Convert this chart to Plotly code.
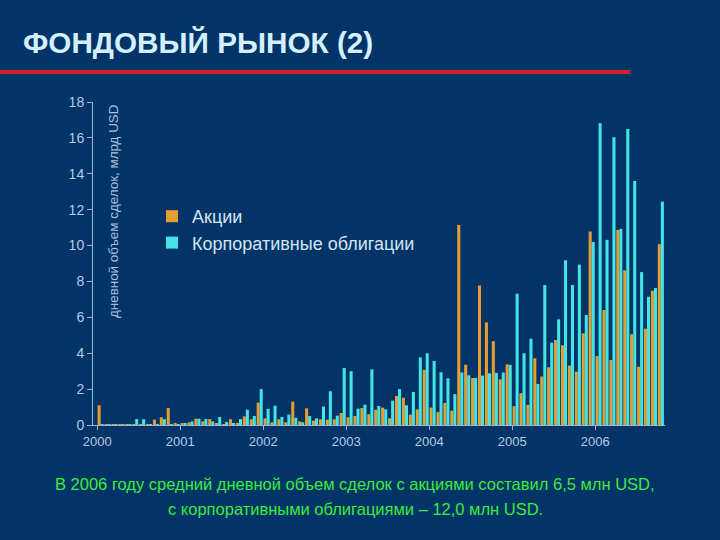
import plotly.graph_objects as go

# Monthly data, Jan 2000 .. Oct 2006 (82 months)
years = ["2000", "2001", "2002", "2003", "2004", "2005", "2006"]

stocks = [
    1.10, 0.03, 0.03, 0.03, 0.03, 0.03, 0.03, 0.03, 0.30, 0.43, 0.95, 0.08,   # 2000
    0.10, 0.15, 0.35, 0.20, 0.33, 0.10, 0.05, 0.32, 0.10, 0.48, 0.32, 1.25,   # 2001
    0.37, 0.15, 0.32, 0.15, 1.30, 0.20, 0.93, 0.24, 0.32, 0.30, 0.32, 0.67,   # 2002
    0.43, 0.50, 0.95, 0.60, 0.85, 0.97, 0.37, 1.62, 1.52, 0.58, 0.87, 3.07,   # 2003
    0.97, 0.72, 1.23, 0.80, 11.15, 3.36, 2.62, 7.78, 5.72, 4.67, 2.55, 3.38,  # 2004
    1.05, 1.77, 1.12, 3.72, 2.70, 3.22, 4.74, 4.44, 3.31, 2.97, 5.11, 10.78,  # 2005
    3.85, 6.41, 3.62, 10.87, 8.62, 5.06, 3.25, 5.37, 7.48, 10.08,             # 2006
]

bonds = [
    0.03, 0.03, 0.03, 0.03, 0.03, 0.33, 0.32, 0.03, 0.05, 0.32, 0.05, 0.05,   # 2000
    0.10, 0.20, 0.35, 0.33, 0.20, 0.45, 0.17, 0.10, 0.33, 0.85, 0.50, 2.00,   # 2001
    0.90, 1.08, 0.45, 0.58, 0.40, 0.15, 0.50, 0.37, 1.03, 1.88, 0.52, 3.18,   # 2002
    3.00, 0.91, 1.13, 3.10, 1.06, 0.87, 1.36, 2.00, 1.10, 1.84, 3.77, 4.00,   # 2003
    3.57, 2.94, 2.60, 1.72, 2.93, 2.77, 2.62, 2.75, 2.88, 2.90, 2.92, 3.35,   # 2004
    7.32, 4.00, 4.81, 2.29, 7.80, 4.59, 5.89, 9.18, 7.80, 8.94, 6.13, 10.20,  # 2005
    16.82, 10.32, 16.04, 10.93, 16.49, 13.60, 8.52, 7.15, 7.63, 12.45,        # 2006
]

title_text = "ФОНДОВЫЙ РЫНОК (2)"
series_names = ["Акции", "Корпоративные облигации"]
y_title = "дневной объем сделок, млрд USD"
footer_lines = ["В 2006 году средний дневной объем сделок с акциями составил 6,5 млн USD,",
                "с корпоративными облигациями – 12,0 млн USD."]

months = [i + 0.5 for i in range(len(stocks))]
tick_vals = [12 * k for k in range(len(years))]

BG = "#023468"
AX = "#9DB6D2"
SANS = "Liberation Sans, Arial, sans-serif"

fig = go.Figure()
fig.add_trace(go.Bar(x=months, y=stocks, name=series_names[0],
                     marker=dict(color="#E69E32", line=dict(width=0)),
                     legendgroup="a"))
fig.add_trace(go.Bar(x=months, y=bonds, name=series_names[1],
                     marker=dict(color="#42E4E6", line=dict(width=0)),
                     legendgroup="b"))

W, H = 720, 540
L, R, T, B = 93, 665, 102, 425


def px(x):
    return (x - L) / (R - L)


def py(y):
    return (B - y) / (B - T)


annotations = [
    dict(text="<b>" + title_text + "</b>", xref="paper", yref="paper",
         x=px(21), y=py(43), xanchor="left", yanchor="middle", showarrow=False,
         font=dict(family=SANS, size=29.7, color="#D4F0FF")),
    dict(text=y_title, xref="paper", yref="paper", textangle=-90,
         x=px(113), y=py(211), xanchor="center", yanchor="middle", showarrow=False,
         font=dict(family=SANS, size=13.4, color="#A9C2DC")),
]
for line, yy in zip(footer_lines, [484, 509]):
    annotations.append(dict(text=line, xref="paper", yref="paper",
                            x=px(355), y=py(yy), xanchor="center", yanchor="middle",
                            showarrow=False,
                            font=dict(family=SANS, size=16.5, color="#3CEB3C")))

fig.update_layout(
    width=W, height=H,
    margin=dict(l=L, r=W - R, t=T, b=H - B, pad=0),
    paper_bgcolor=BG, plot_bgcolor=BG,
    barmode="group", bargap=0.12, bargroupgap=0.0,
    showlegend=True,
    legend=dict(x=px(152), y=py(198), xanchor="left", yanchor="top",
                bgcolor="rgba(0,0,0,0)", font=dict(family=SANS, size=18, color="#D5E4F2"),
                tracegroupgap=6, itemsizing="constant", traceorder="normal"),
    xaxis=dict(range=[-0.6, 82.1], tickmode="array", tickvals=tick_vals, ticktext=years,
               showgrid=False, zeroline=False, showline=True, linecolor=AX, linewidth=1,
               ticks="outside", ticklen=4, tickcolor=AX,
               tickfont=dict(family=SANS, size=13, color="#B9CBE0")),
    yaxis=dict(range=[0, 18], tickmode="linear", tick0=0, dtick=2,
               showgrid=False, zeroline=False, showline=True, linecolor=AX, linewidth=1,
               ticks="outside", ticklen=5, tickcolor=AX,
               tickfont=dict(family=SANS, size=14, color="#B9CBE0")),
    shapes=[dict(type="line", xref="paper", yref="paper",
                 x0=px(0), x1=px(630), y0=py(72), y1=py(72),
                 line=dict(color="#D4202C", width=4))],
    annotations=annotations,
)

fig.write_html("out.html",
               config={"displayModeBar": False},
               post_script="document.body.style.margin='0';"
                           "document.body.style.background='" + BG + "';")
